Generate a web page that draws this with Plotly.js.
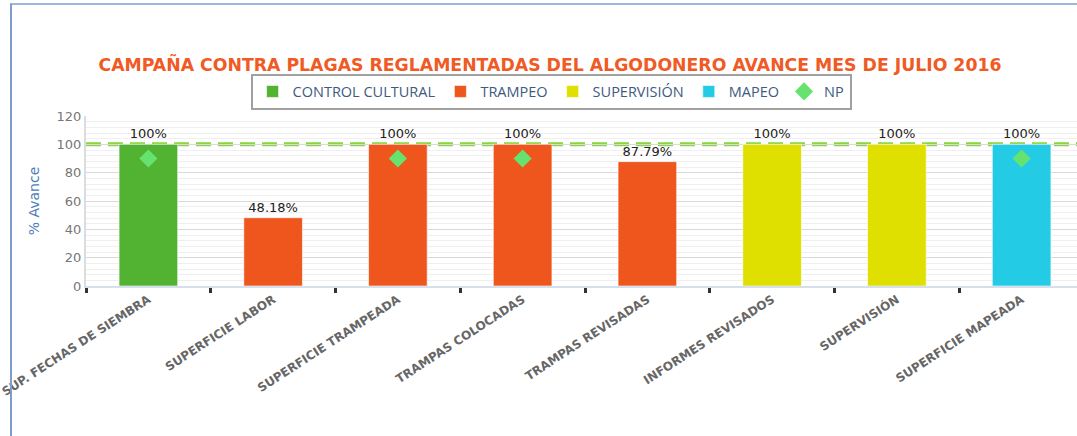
<!DOCTYPE html>
<html>
<head>
<meta charset="utf-8">
<script src="https://cdn.plot.ly/plotly-3.0.1.min.js"></script>
<style>
html,body{margin:0;padding:0;overflow:hidden;background:#fff;width:1077px;height:436px;}
#wrap{position:relative;width:1077px;height:436px;overflow:hidden;}
#chart{position:absolute;left:0;top:0;}
#frame{position:absolute;left:10px;top:3px;width:1080px;height:440px;border-left:2px solid #7f9dc9;border-top:2px solid #9fb6d8;pointer-events:none;}
</style>
</head>
<body>
<div id="wrap"><div id="chart"></div><div id="frame"></div></div>
<script>
const categories = ["SUP. FECHAS DE SIEMBRA","SUPERFICIE LABOR","SUPERFICIE TRAMPEADA","TRAMPAS COLOCADAS","TRAMPAS REVISADAS","INFORMES REVISADOS","SUPERVISIÓN","SUPERFICIE MAPEADA"];
const controlCultural = [100, null, null, null, null, null, null, null];
const trampeo = [null, 48.18, 100, 100, 87.79, null, null, null];
const supervision = [null, null, null, null, null, 100, 100, null];
const mapeo = [null, null, null, null, null, null, null, 100];
const np = [90, null, 90, 90, null, null, null, 90];
const meta = 100;

function barTrace(name, vals, color){
  return {
    type:'bar', name:name, x:categories, y:vals,
    marker:{color:color, line:{color:'rgba(255,255,255,0.6)', width:1}},
    width:0.47,
    text: vals.map(v => v==null ? '' : (v===100 ? '100%' : v.toFixed(2)+'%')),
    textposition:'outside', cliponaxis:false,
    textfont:{family:'DejaVu Sans, sans-serif', size:13, color:'#222'},
    hoverinfo:'x+y'
  };
}

const data = [
  barTrace('CONTROL CULTURAL', controlCultural, '#52b232'),
  barTrace('TRAMPEO', trampeo, '#ee561d'),
  barTrace('SUPERVISIÓN', supervision, '#dfdf00'),
  barTrace('MAPEO', mapeo, '#24cbe4'),
  {type:'scatter', mode:'markers', name:'NP', x:categories, y:np,
   marker:{symbol:'diamond', size:14, color:'#66e26f'}}
];

const layout = {
  width:1100, height:436,
  margin:{l:86, r:16, t:116, b:150},
  paper_bgcolor:'rgba(0,0,0,0)', plot_bgcolor:'#fff',
  barmode:'overlay',
  title:{text:'CAMPAÑA CONTRA PLAGAS REGLAMENTADAS DEL ALGODONERO AVANCE MES DE JULIO 2016',
    font:{family:'DejaVu Sans, sans-serif', size:17.3, color:'#f05a24', weight:'bold'},
    x:(550/1100), xanchor:'center', y:1-65/436, yanchor:'middle'},
  showlegend:true,
  legend:{orientation:'h', x:0.466, xanchor:'center', y:1.25, yanchor:'top',
    bordercolor:'#a0a0a0', borderwidth:2, bgcolor:'#fff',
    font:{family:'Open Sans, sans-serif', size:14.5, color:'#3e5a7e'},
    itemwidth:30, traceorder:'normal', tracegroupgap:0},
  xaxis:{type:'category', tickson:'boundaries', ticks:'outside', ticklen:5, tickwidth:3, tickcolor:'#333',
    tickangle:-33, showgrid:false, showline:true, linecolor:'#d6e0ec', linewidth:2,
    tickfont:{family:'DejaVu Sans, sans-serif', size:12, color:'#666', weight:'bold'},
    range:[-0.5, 7.5], fixedrange:true},
  yaxis:{range:[0,120], dtick:20, showgrid:true, gridcolor:'#d9d9d9', gridwidth:1,
    minor:{dtick:4, showgrid:true, gridcolor:'#efefef', gridwidth:1},
    showline:true, linecolor:'#dcdcdc', linewidth:2, zeroline:false,
    tickfont:{family:'DejaVu Sans, sans-serif', size:13, color:'#777'},
    title:{text:'% Avance', font:{family:'DejaVu Sans, sans-serif', size:14, color:'#4f7db9'}, standoff:14},
    fixedrange:true},
  shapes:[{type:'line', xref:'paper', x0:0, x1:1, yref:'y', y0:meta, y1:meta,
    line:{color:'#88d63e', width:4, dash:'15px,7px'}, layer:'between', opacity:1}]
};

Plotly.newPlot('chart', data, layout, {displayModeBar:false, staticPlot:true});
</script>
</body>
</html>
